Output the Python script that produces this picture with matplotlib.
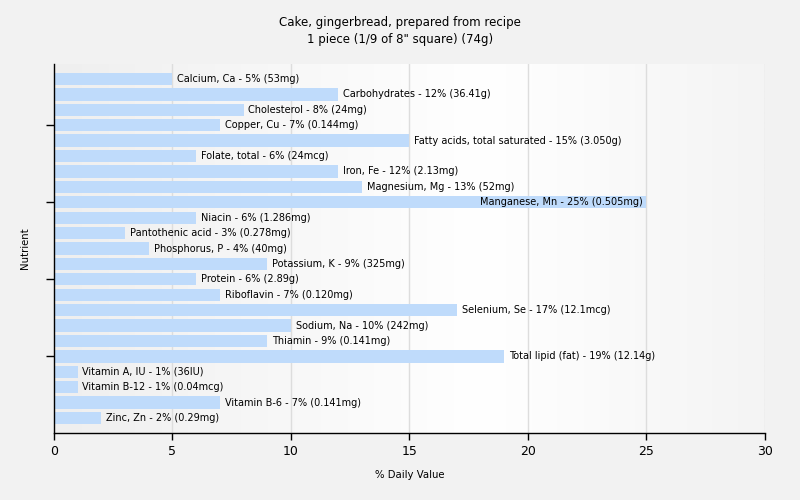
import matplotlib
matplotlib.use("Agg")
import matplotlib.pyplot as plt
import numpy as np
from matplotlib.colors import LinearSegmentedColormap

nutrients = ["Calcium, Ca", "Carbohydrates", "Cholesterol", "Copper, Cu",
             "Fatty acids, total saturated", "Folate, total", "Iron, Fe",
             "Magnesium, Mg", "Manganese, Mn", "Niacin", "Pantothenic acid",
             "Phosphorus, P", "Potassium, K", "Protein", "Riboflavin",
             "Selenium, Se", "Sodium, Na", "Thiamin", "Total lipid (fat)",
             "Vitamin A, IU", "Vitamin B-12", "Vitamin B-6", "Zinc, Zn"]
values = [5, 12, 8, 7, 15, 6, 12, 13, 25, 6, 3, 4, 9, 6, 7, 17, 10, 9, 19, 1, 1, 7, 2]
amounts = ["53mg", "36.41g", "24mg", "0.144mg", "3.050g", "24mcg", "2.13mg",
           "52mg", "0.505mg", "1.286mg", "0.278mg", "40mg", "325mg", "2.89g",
           "0.120mg", "12.1mcg", "242mg", "0.141mg", "12.14g", "36IU",
           "0.04mcg", "0.141mg", "0.29mg"]
xticks = [0, 5, 10, 15, 20, 25, 30]

fig = plt.figure(figsize=(8, 5), dpi=100)
fig.patch.set_facecolor("#f2f2f2")
ax = fig.add_axes([0.0675, 0.134, 0.8885, 0.738])

n = len(nutrients)
ax.set_xlim(0, 30)
ax.set_ylim(n - 1 + 0.97, -0.97)

# background gradient
cmap = LinearSegmentedColormap.from_list("bg", [(0, "#efefef"), (0.6, "#ffffff"), (1, "#f4f4f4")])
grad = np.linspace(0, 1, 256).reshape(1, -1)
ax.imshow(grad, cmap=cmap, aspect="auto", extent=[0, 30, n - 1 + 0.97, -0.97], zorder=0)

for x in xticks[1:]:
    ax.axvline(x, color="#dddddd", lw=1, zorder=1)

y = np.arange(n)
ax.barh(y, values, height=0.8, color="#bfdbfb", zorder=2)

for i, (name, v, a) in enumerate(zip(nutrients, values, amounts)):
    label = f"{name} - {v}% ({a})"
    if v >= 22:
        ax.text(v - 0.15, i, label, ha="right", va="center", fontsize=7, color="#000000", zorder=3)
    else:
        ax.text(v + 0.2, i, label, ha="left", va="center", fontsize=7, color="#000000", zorder=3)

ax.set_xticks(xticks)
ax.set_xticklabels([str(t) for t in xticks], fontsize=9)
ax.set_yticks([3, 8, 13, 18])
ax.set_yticklabels([])
ax.tick_params(axis="y", length=6, width=1, direction="out")
ax.tick_params(axis="x", length=5, width=1, direction="out")
for s in ["top", "right"]:
    ax.spines[s].set_visible(False)
ax.spines["left"].set_linewidth(1)
ax.spines["bottom"].set_linewidth(1)

ax.set_xlabel("% Daily Value", fontsize=7.3, labelpad=9)
ax.set_ylabel("Nutrient", fontsize=7.3, labelpad=8)

fig.text(0.5, 0.955, "Cake, gingerbread, prepared from recipe", ha="center", va="center", fontsize=8.5)
fig.text(0.5, 0.92, "1 piece (1/9 of 8\" square) (74g)", ha="center", va="center", fontsize=8.5)

fig.savefig("out.png", dpi=100, facecolor=fig.get_facecolor())
